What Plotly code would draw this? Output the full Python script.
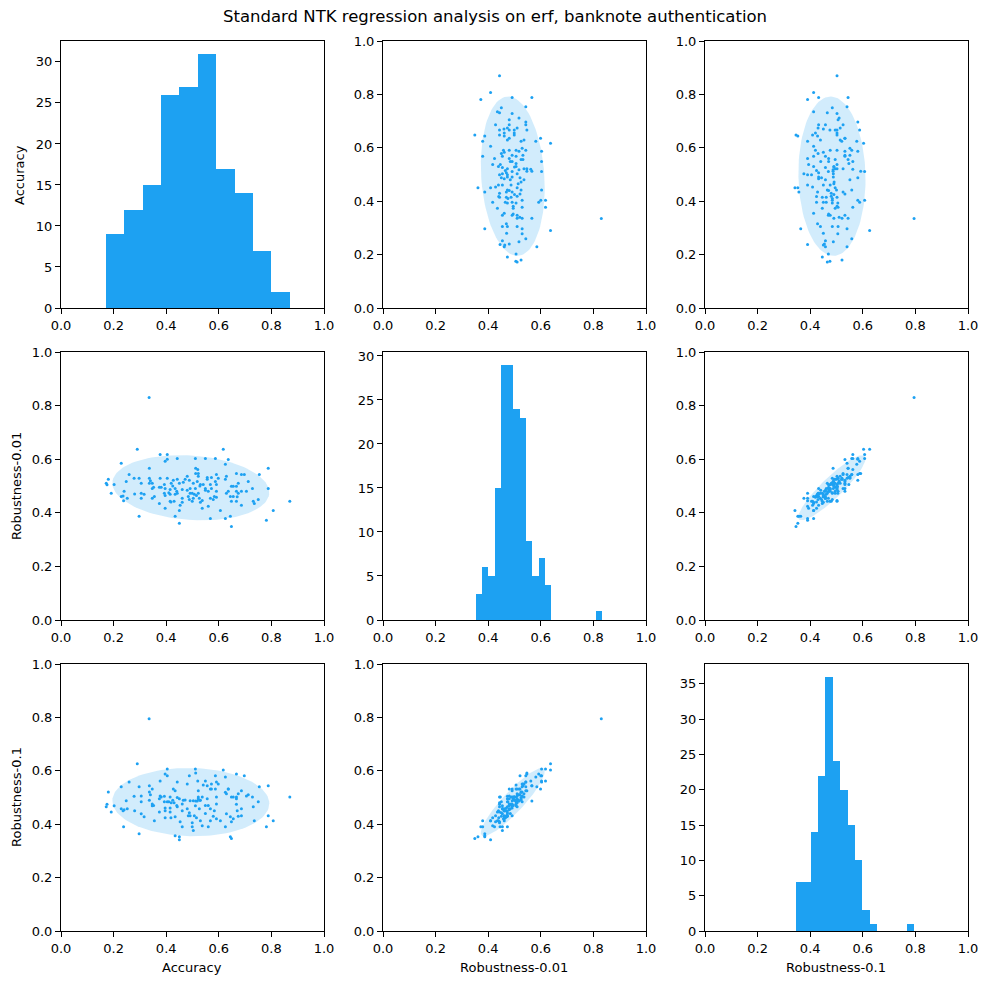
import numpy as np
import plotly.graph_objects as go
from plotly.subplots import make_subplots

# one entry per trained model: accuracy, robustness at eps 0.01 and 0.1
acc = [
    0.172, 0.180, 0.191, 0.202, 0.229, 0.229, 0.240, 0.248, 0.252, 0.259,
    0.278, 0.290, 0.297, 0.297, 0.305, 0.305, 0.305, 0.316, 0.336, 0.336,
    0.336, 0.347, 0.347, 0.347, 0.355, 0.374, 0.374, 0.377, 0.377, 0.381,
    0.393, 0.393, 0.396, 0.396, 0.396, 0.404, 0.404, 0.404, 0.415, 0.415,
    0.415, 0.419, 0.427, 0.430, 0.434, 0.434, 0.434, 0.442, 0.442, 0.442,
    0.450, 0.450, 0.450, 0.453, 0.461, 0.461, 0.461, 0.465, 0.472, 0.480,
    0.480, 0.484, 0.488, 0.488, 0.491, 0.491, 0.499, 0.499, 0.503, 0.503,
    0.507, 0.335, 0.511, 0.512, 0.520, 0.512, 0.522, 0.522, 0.518, 0.511,
    0.522, 0.515, 0.530, 0.541, 0.526, 0.537, 0.530, 0.537, 0.549, 0.556,
    0.556, 0.549, 0.549, 0.560, 0.572, 0.568, 0.572, 0.568, 0.579, 0.568,
    0.587, 0.591, 0.598, 0.587, 0.591, 0.591, 0.583, 0.591, 0.606, 0.617,
    0.625, 0.629, 0.625, 0.629, 0.625, 0.636, 0.648, 0.655, 0.636, 0.644,
    0.655, 0.648, 0.644, 0.648, 0.667, 0.686, 0.674, 0.667, 0.667, 0.686,
    0.674, 0.667, 0.686, 0.670, 0.697, 0.712, 0.705, 0.754, 0.728, 0.750,
    0.731, 0.735, 0.788, 0.788, 0.807, 0.781, 0.870, 0.236, 0.238, 0.175,
    0.280, 0.352, 0.340, 0.410, 0.418, 0.396, 0.425, 0.440, 0.528, 0.560,
]
rob_001 = [
    0.510, 0.525, 0.473, 0.506, 0.585, 0.461, 0.480, 0.517, 0.454, 0.543,
    0.529, 0.637, 0.529, 0.387, 0.510, 0.473, 0.454, 0.469, 0.566, 0.529,
    0.510, 0.510, 0.491, 0.454, 0.461, 0.495, 0.435, 0.618, 0.529, 0.495,
    0.506, 0.473, 0.592, 0.491, 0.417, 0.618, 0.600, 0.529, 0.487, 0.469,
    0.443, 0.510, 0.521, 0.443, 0.491, 0.469, 0.387, 0.603, 0.525, 0.473,
    0.510, 0.409, 0.361, 0.428, 0.487, 0.454, 0.439, 0.514, 0.525, 0.536,
    0.484, 0.461, 0.521, 0.450, 0.491, 0.473, 0.473, 0.443, 0.510, 0.454,
    0.469, 0.830, 0.603, 0.566, 0.562, 0.547, 0.547, 0.536, 0.517, 0.491,
    0.473, 0.465, 0.506, 0.506, 0.454, 0.446, 0.439, 0.417, 0.603, 0.532,
    0.525, 0.491, 0.484, 0.424, 0.532, 0.506, 0.491, 0.454, 0.450, 0.379,
    0.603, 0.543, 0.529, 0.517, 0.506, 0.480, 0.461, 0.458, 0.409, 0.637,
    0.581, 0.536, 0.525, 0.473, 0.379, 0.599, 0.499, 0.499, 0.480, 0.461,
    0.461, 0.443, 0.387, 0.349, 0.547, 0.543, 0.510, 0.499, 0.480, 0.480,
    0.473, 0.443, 0.428, 0.460, 0.543, 0.517, 0.480, 0.543, 0.491, 0.450,
    0.443, 0.435, 0.566, 0.491, 0.409, 0.372, 0.443, 0.463, 0.445, 0.505,
    0.470, 0.495, 0.520, 0.475, 0.440, 0.465, 0.500, 0.480, 0.500, 0.480,
]
rob_01 = [
    0.465, 0.521, 0.446, 0.469, 0.540, 0.458, 0.454, 0.488, 0.458, 0.558,
    0.505, 0.626, 0.540, 0.364, 0.506, 0.484, 0.439, 0.428, 0.544, 0.521,
    0.490, 0.532, 0.476, 0.469, 0.413, 0.495, 0.446, 0.562, 0.506, 0.502,
    0.484, 0.505, 0.588, 0.461, 0.424, 0.607, 0.581, 0.484, 0.502, 0.461,
    0.446, 0.480, 0.532, 0.480, 0.525, 0.428, 0.357, 0.558, 0.500, 0.465,
    0.495, 0.342, 0.353, 0.409, 0.476, 0.390, 0.450, 0.490, 0.491, 0.551,
    0.458, 0.432, 0.581, 0.443, 0.488, 0.432, 0.390, 0.405, 0.488, 0.376,
    0.432, 0.795, 0.607, 0.487, 0.562, 0.592, 0.525, 0.502, 0.487, 0.469,
    0.495, 0.424, 0.490, 0.547, 0.458, 0.502, 0.413, 0.394, 0.562, 0.544,
    0.495, 0.470, 0.440, 0.390, 0.551, 0.532, 0.532, 0.458, 0.430, 0.413,
    0.581, 0.558, 0.551, 0.532, 0.502, 0.476, 0.450, 0.420, 0.413, 0.603,
    0.577, 0.514, 0.520, 0.439, 0.390, 0.532, 0.502, 0.502, 0.532, 0.428,
    0.420, 0.409, 0.353, 0.346, 0.588, 0.525, 0.514, 0.502, 0.495, 0.458,
    0.430, 0.475, 0.432, 0.450, 0.581, 0.510, 0.506, 0.540, 0.502, 0.484,
    0.465, 0.413, 0.544, 0.432, 0.413, 0.390, 0.502, 0.450, 0.390, 0.475,
    0.450, 0.470, 0.510, 0.484, 0.424, 0.450, 0.490, 0.470, 0.490, 0.470,
]

names = ["Accuracy", "Robustness-0.01", "Robustness-0.1"]

# histogram counts
acc_counts = [9, 12, 15, 26, 27, 31, 17, 14, 7, 2]
rob_001_counts = [3, 6, 5, 15, 29, 29, 24, 23, 9, 5, 7, 4, 0, 0, 0, 0, 0, 0, 0, 1]
rob_01_counts = [7, 7, 14, 22, 36, 24, 20, 15, 10, 3, 1, 0, 0, 0, 0, 1]
hist_lo = [0.17, 0.352, 0.345]
hist_hi = [0.87, 0.832, 0.795]

BLUE = "#1DA1F2"
FONT = "DejaVu Sans"
W, H = 990, 985

data = [acc, rob_001, rob_01]
counts = [acc_counts, rob_001_counts, rob_01_counts]

# panel edges in page pixels
col_px = [(61, 324), (383, 646), (705, 968)]
row_px = [(41, 308), (352, 620), (664, 931)]


def px(x):
    return x / W


def py(y):
    return 1 - y / H


def ellipse(x, y, n_std=2.0, steps=120):
    x = np.asarray(x)
    y = np.asarray(y)
    cov = np.cov(x, y)
    vals, vecs = np.linalg.eigh(cov)
    t = np.linspace(0, 2 * np.pi, steps)
    circle = np.array([np.cos(t), np.sin(t)])
    pts = vecs @ (n_std * np.sqrt(vals)[:, None] * circle)
    return pts[0] + x.mean(), pts[1] + y.mean()


fig = make_subplots(rows=3, cols=3)

for i in range(3):
    for j in range(3):
        r, c = i + 1, j + 1
        if i == j:
            edges = np.linspace(hist_lo[i], hist_hi[i], len(counts[i]) + 1)
            centers = (edges[:-1] + edges[1:]) / 2
            fig.add_trace(
                go.Bar(
                    x=centers,
                    y=counts[i],
                    width=edges[1] - edges[0],
                    marker=dict(color=BLUE, line=dict(width=0)),
                    showlegend=False,
                ),
                row=r, col=c,
            )
        else:
            ex, ey = ellipse(data[j], data[i])
            fig.add_trace(
                go.Scatter(
                    x=ex, y=ey, mode="lines", fill="toself",
                    fillcolor="rgba(29,161,242,0.2)",
                    line=dict(width=0), hoverinfo="skip", showlegend=False,
                ),
                row=r, col=c,
            )
            fig.add_trace(
                go.Scatter(
                    x=data[j], y=data[i], mode="markers",
                    marker=dict(color=BLUE, size=3),
                    showlegend=False,
                ),
                row=r, col=c,
            )

axis_style = dict(
    showline=True, linecolor="black", linewidth=1, mirror=True,
    ticks="outside", ticklen=5, tickwidth=1, tickcolor="black",
    showgrid=False, zeroline=False, automargin=False,
    tickfont=dict(family=FONT, size=13, color="black"),
)

for i in range(3):
    for j in range(3):
        n = i * 3 + j + 1
        suffix = "" if n == 1 else str(n)
        x0, x1 = col_px[j]
        y0, y1 = row_px[i]
        fig.layout["xaxis" + suffix].update(
            domain=[px(x0), px(x1)], range=[0, 1], dtick=0.2,
            tickformat=".1f", **axis_style
        )
        if i == j:
            ymax = max(counts[i]) * 1.05
            fig.layout["yaxis" + suffix].update(
                domain=[py(y1), py(y0)], range=[0, ymax], dtick=5,
                **axis_style
            )
        else:
            fig.layout["yaxis" + suffix].update(
                domain=[py(y1), py(y0)], range=[0, 1], dtick=0.2,
                tickformat=".1f", **axis_style
            )

annotations = [
    dict(text="Standard NTK regression analysis on erf, banknote authentication",
         x=px(495), y=py(16), font=dict(size=16.5)),
    dict(text="Accuracy", x=px(20), y=py(175), textangle=-90),
    dict(text="Robustness-0.01", x=px(16), y=py(486), textangle=-90),
    dict(text="Robustness-0.1", x=px(16), y=py(797), textangle=-90),
    dict(text="Accuracy", x=px(192), y=py(967)),
    dict(text="Robustness-0.01", x=px(514), y=py(967)),
    dict(text="Robustness-0.1", x=px(836), y=py(967)),
]
for a in annotations:
    a.setdefault("font", dict(size=13))
    a["font"].update(family=FONT, color="black")
    a.update(xref="paper", yref="paper", xanchor="center", yanchor="middle",
             showarrow=False)

fig.update_layout(
    width=W, height=H,
    margin=dict(l=0, r=0, t=0, b=0, pad=0),
    paper_bgcolor="white", plot_bgcolor="white",
    annotations=annotations,
    bargap=0,
)

# drop the default body margin so the figure sits at the page corner
page_fix = (
    "document.documentElement.style.margin='0';"
    "document.body.style.margin='0';"
    "document.body.style.overflow='hidden';"
)
fig.write_html("out.html", config={"displayModeBar": False}, post_script=page_fix)
